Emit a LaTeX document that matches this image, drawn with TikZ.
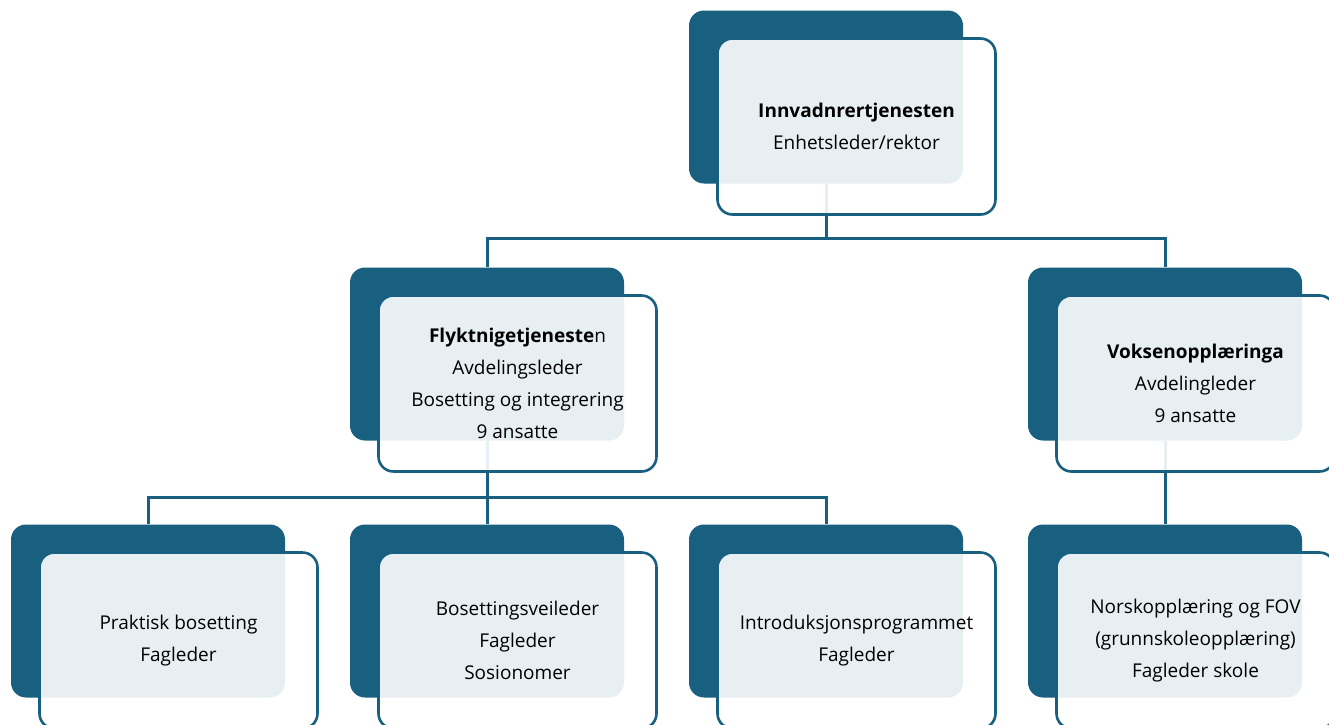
\documentclass[tikz,border=0pt]{standalone}
\usepackage{fontspec}
\setmainfont{Open Sans}
\usepackage{tikz}
\definecolor{unitblue}{HTML}{185F80}

\begin{document}
\begin{tikzpicture}[x=0.5pt,y=-0.5pt]
        \useasboundingbox (0,0) rectangle (1329,724);
        \clip (0,0) rectangle (1329,724);
        \begin{scope}[
            back/.style={fill=unitblue,rounded corners=7.5pt,inner sep=0pt,
                minimum width=137pt,minimum height=86.5pt},
            front/.style={draw=unitblue,line width=1.3pt,fill=white,fill opacity=0.9,
                text opacity=1,text=black,rounded corners=7.5pt,align=center,
                minimum width=139pt,minimum height=88pt,
                font=\fontsize{9.5}{16}\selectfont},
            link/.style={draw=unitblue,line width=1.5pt}
            ]
            % back boxes
            \node[back] (topB) at (826, 97) {};
            \node[back] (flyB) at (487, 354) {};
            \node[back] (voksB) at (1165, 354) {};
            \node[back] (prakB) at (148, 611) {};
            \node[back] (bosB) at (487, 611) {};
            \node[back] (introB) at (826, 611) {};
            \node[back] (norskB) at (1165, 611) {};
            % connectors
            \coordinate (j1) at (826, 238);
            \coordinate (j2) at (487, 497);
            \draw[link] (topB.south) -- (j1);
            \draw[link] (flyB.north) |- (j1) -| (voksB.north);
            \draw[link] (flyB.south) -- (j2);
            \draw[link] (prakB.north) |- (j2) -| (introB.north);
            \draw[link] (j2) -- (bosB.north);
            \draw[link] (voksB.south) -- (norskB.north);
            % front boxes
            \node[front] (top) at (856.5, 126.5) {\textbf{Innvadnrertjenesten}\\Enhetsleder/rektor};
            \node[front] (fly) at (517.5, 383.5) {\textbf{Flyktnigetjeneste}n\\Avdelingsleder\\Bosetting og integrering\\9 ansatte};
            \node[front] (voks) at (1195.5, 383.5) {\textbf{Voksenopplæringa}\\Avdelingleder\\9 ansatte};
            \node[front] (prak) at (178.5, 640.5) {Praktisk bosetting\\Fagleder};
            \node[front] (bos) at (517.5, 640.5) {Bosettingsveileder\\Fagleder\\Sosionomer};
            \node[front] (intro) at (856.5, 640.5) {Introduksjonsprogrammet\\Fagleder};
            \node[front] (norsk) at (1195.5, 640.5) {Norskopplæring og FOV\\(grunnskoleopplæring)\\Fagleder skole};
        \end{scope}
    \end{tikzpicture}
\end{document}
